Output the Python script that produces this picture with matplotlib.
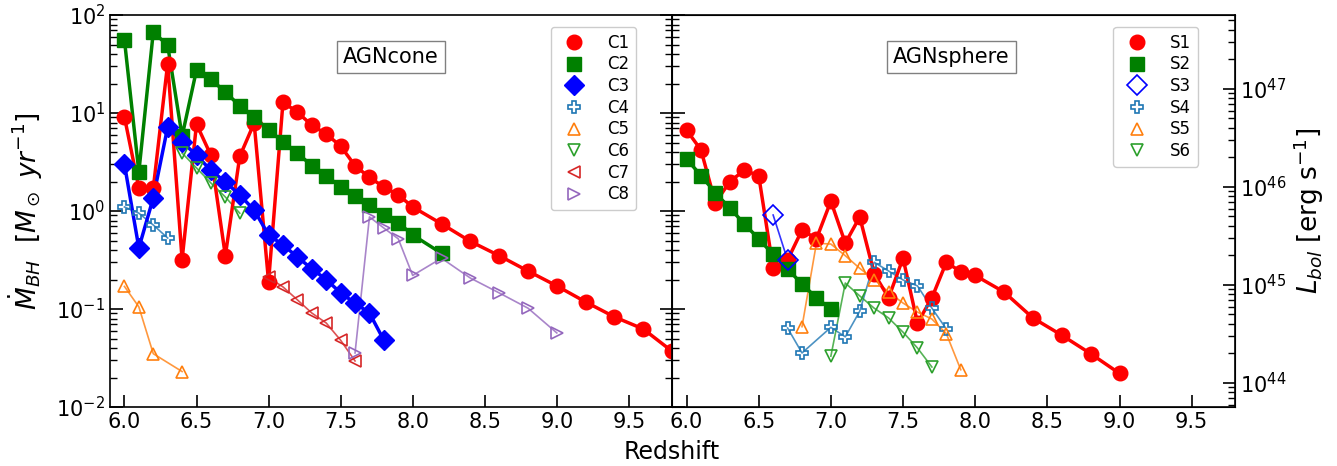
import matplotlib
matplotlib.use("Agg")
import matplotlib.pyplot as plt
import numpy as np

# ---- AGNcone runs ----
c1_z = [6.0, 6.1, 6.2, 6.3, 6.4, 6.5, 6.6, 6.7, 6.8, 6.9, 7.0, 7.1, 7.2, 7.3, 7.4, 7.5, 7.6, 7.7, 7.8, 7.9,
        8.0, 8.2, 8.4, 8.6, 8.8, 9.0, 9.2, 9.4, 9.6, 9.8]
c1_m = [9.1, 1.72, 1.7, 32, 0.32, 7.7, 3.7, 0.35, 3.6, 7.9, 0.19, 12.9, 10.2, 7.5, 6.1, 4.6, 2.9, 2.2, 1.76, 1.46,
        1.1, 0.74, 0.49, 0.35, 0.244, 0.172, 0.118, 0.083, 0.0625, 0.037]
c2_z = [6.0, 6.1, 6.2, 6.3, 6.4, 6.5, 6.6, 6.7, 6.8, 6.9, 7.0, 7.1, 7.2, 7.3, 7.4, 7.5, 7.6, 7.7, 7.8, 7.9, 8.0, 8.2]
c2_m = [55.6, 2.5, 67, 49, 5.8, 27.5, 22, 16.4, 11.8, 9.1, 6.7, 5.1, 3.9, 2.9, 2.3, 1.76, 1.42, 1.15, 0.91, 0.76,
        0.57, 0.37]
c3_z = [6.0, 6.1, 6.2, 6.3, 6.4, 6.5, 6.6, 6.7, 6.8, 6.9, 7.0, 7.1, 7.2, 7.3, 7.4, 7.5, 7.6, 7.7, 7.8]
c3_m = [3.0, 0.42, 1.36, 7.2, 5.1, 3.7, 2.6, 1.98, 1.46, 1.02, 0.57, 0.45, 0.34, 0.257, 0.2, 0.146, 0.115, 0.091, 0.048]
c4_z = [6.0, 6.1, 6.2, 6.3]
c4_m = [1.1, 0.95, 0.72, 0.53]
c5_z = [6.0, 6.1, 6.2, 6.4]
c5_m = [0.17, 0.105, 0.035, 0.023]
c6_z = [6.4, 6.5, 6.6, 6.7, 6.8]
c6_m = [3.9, 2.75, 1.93, 1.39, 0.95]
c7_z = [7.0, 7.1, 7.2, 7.3, 7.4, 7.5, 7.6]
c7_m = [0.21, 0.168, 0.124, 0.091, 0.072, 0.048, 0.0295]
c8_z = [7.6, 7.7, 7.8, 7.9, 8.0, 8.2, 8.4, 8.6, 8.8, 9.0]
c8_m = [0.0356, 0.87, 0.67, 0.52, 0.22, 0.33, 0.207, 0.146, 0.102, 0.057]

# ---- AGNsphere runs ----
s1_z = [6.0, 6.1, 6.2, 6.3, 6.4, 6.5, 6.6, 6.7, 6.8, 6.9, 7.0, 7.1, 7.2, 7.3, 7.4, 7.5, 7.6, 7.7, 7.8, 7.9,
        8.0, 8.2, 8.4, 8.6, 8.8, 9.0]
s1_m = [6.7, 4.2, 1.21, 2.0, 2.6, 2.3, 0.26, 0.316, 0.64, 0.52, 1.26, 0.47, 0.87, 0.23, 0.13, 0.33, 0.072, 0.13,
        0.3, 0.24, 0.22, 0.149, 0.081, 0.054, 0.035, 0.022]
s2_z = [6.0, 6.1, 6.2, 6.3, 6.4, 6.5, 6.6, 6.7, 6.8, 6.9, 7.0]
s2_m = [3.4, 2.3, 1.53, 1.07, 0.74, 0.52, 0.36, 0.256, 0.18, 0.13, 0.1]
s3_z = [6.6, 6.7]
s3_m = [0.91, 0.316]
s4_z = [6.7, 6.8, 7.0, 7.1, 7.2, 7.3, 7.4, 7.5, 7.6, 7.7, 7.8]
s4_m = [0.064, 0.0356, 0.065, 0.052, 0.095, 0.3, 0.244, 0.198, 0.172, 0.102, 0.0625]
s5_z = [6.8, 6.9, 7.0, 7.1, 7.2, 7.3, 7.4, 7.5, 7.6, 7.7, 7.8, 7.9]
s5_m = [0.066, 0.47, 0.46, 0.35, 0.26, 0.2, 0.149, 0.115, 0.093, 0.079, 0.056, 0.024]
s6_z = [7.0, 7.1, 7.2, 7.3, 7.4, 7.5, 7.6, 7.7]
s6_m = [0.033, 0.184, 0.136, 0.102, 0.081, 0.058, 0.04, 0.0256]

# L_bol = 0.1 * Mdot * c^2, in erg/s per Msun/yr
lbol_per_mdot = 5.67e45

fig = plt.figure(figsize=(13.37, 4.66), dpi=100)
ax1 = fig.add_axes([0.0823, 0.1266, 0.4204, 0.8412])
ax2 = fig.add_axes([0.5027, 0.1266, 0.4210, 0.8412], sharey=ax1)


def bold(ax, z, m, color, marker, label, ms=10.5):
    ax.plot(z, m, '-', color=color, lw=2.5, zorder=3)
    ax.plot(z, m, linestyle='none', marker=marker, color=color, ms=ms, label=label, zorder=4)


def thin(ax, z, m, color, marker, label, ms=9, mew=1.2):
    ax.plot(z, m, '-', color=color, lw=1.2, alpha=0.8, zorder=2)
    ax.plot(z, m, linestyle='none', marker=marker, color=color, mfc='none', mew=mew, ms=ms,
            label=label, zorder=4)


bold(ax1, c1_z, c1_m, 'red', 'o', 'C1')
bold(ax1, c2_z, c2_m, 'green', 's', 'C2')
bold(ax1, c3_z, c3_m, 'blue', 'D', 'C3')
thin(ax1, c4_z, c4_m, 'tab:blue', 'P', 'C4')
thin(ax1, c5_z, c5_m, 'tab:orange', '^', 'C5')
thin(ax1, c6_z, c6_m, 'tab:green', 'v', 'C6')
thin(ax1, c7_z, c7_m, 'tab:red', '<', 'C7')
thin(ax1, c8_z, c8_m, 'tab:purple', '>', 'C8')

bold(ax2, s1_z, s1_m, 'red', 'o', 'S1')
bold(ax2, s2_z, s2_m, 'green', 's', 'S2')
thin(ax2, s3_z, s3_m, 'blue', 'D', 'S3', ms=10)
thin(ax2, s4_z, s4_m, 'tab:blue', 'P', 'S4')
thin(ax2, s5_z, s5_m, 'tab:orange', '^', 'S5')
thin(ax2, s6_z, s6_m, 'tab:green', 'v', 'S6')

for ax in (ax1, ax2):
    ax.set_yscale('log')
    ax.set_ylim(1e-2, 1e2)
    ax.set_xlim(5.9, 9.8)
    ax.set_xticks([6.0, 6.5, 7.0, 7.5, 8.0, 8.5, 9.0, 9.5])
    ax.set_xticklabels(['6.0', '6.5', '7.0', '7.5', '8.0', '8.5', '9.0', '9.5'])
    ax.tick_params(which='both', direction='in', labelsize=15)
    ax.tick_params(which='major', length=9, width=1.2)
    ax.tick_params(which='minor', length=5, width=1)
    for s in ax.spines.values():
        s.set_linewidth(1.2)

ax1.tick_params(axis='y', which='both', right=True)
ax2.tick_params(axis='y', which='both', labelleft=False, right=False)

ax1.set_ylabel(r'$\dot{M}_{BH}$  $[M_\odot\ yr^{-1}]$', fontsize=19, labelpad=8)

axr = ax2.twinx()
axr.set_yscale('log')
axr.set_ylim(1e-2 * lbol_per_mdot, 1e2 * lbol_per_mdot)
axr.tick_params(which='both', direction='in', labelsize=15)
axr.tick_params(which='major', length=9, width=1.2)
axr.tick_params(which='minor', length=5, width=1)
axr.set_ylabel(r'$L_{bol}$ [erg s$^{-1}$]', fontsize=19, labelpad=4)

leg_kw = dict(loc='upper right', fontsize=12, numpoints=1, labelspacing=0.22,
              handletextpad=1.0, handlelength=2.0, borderaxespad=0, framealpha=1)
ax1.legend(bbox_to_anchor=(0.936, 0.969), **leg_kw)
ax2.legend(bbox_to_anchor=(0.934, 0.969), **leg_kw)

box = dict(boxstyle='square,pad=0.3', facecolor='white', edgecolor='gray')
ax1.text(0.5, 0.893, 'AGNcone', transform=ax1.transAxes, ha='center', va='center', fontsize=15, bbox=box)
ax2.text(0.496, 0.893, 'AGNsphere', transform=ax2.transAxes, ha='center', va='center', fontsize=15, bbox=box)

fig.text(0.5027, 0.03, 'Redshift', ha='center', va='center', fontsize=17)

fig.savefig('out.png', dpi=100)
